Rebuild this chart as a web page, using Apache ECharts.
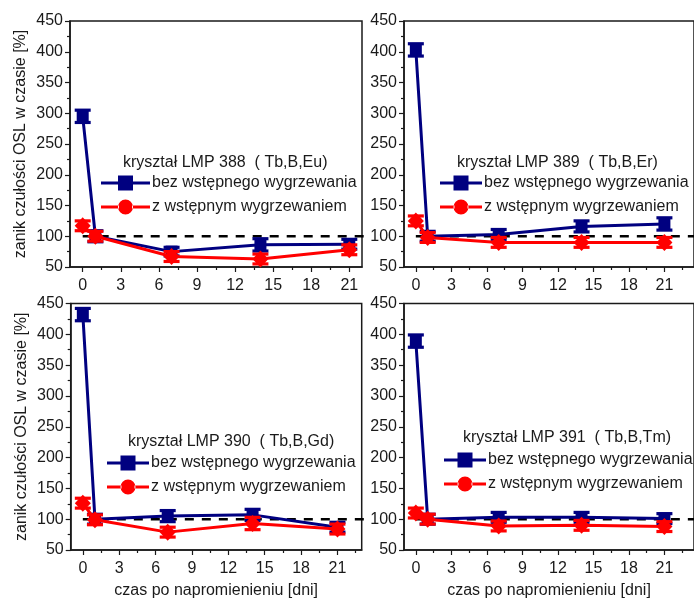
<!DOCTYPE html>
<html><head><meta charset="utf-8">
<script src="https://cdn.jsdelivr.net/npm/echarts@6/dist/echarts.min.js"></script>
<style>html,body{margin:0;padding:0;background:#fff}#c{width:694px;height:602px}</style>
</head><body><div id="c"></div>
<script>
// ---- data ----
const days = [0, 1, 7, 14, 21];
const xTicks = [0, 3, 6, 9, 12, 15, 18, 21];
const xMinorTicks = [1.5, 4.5, 7.5, 10.5, 13.5, 16.5, 19.5, 22.5];
const seriesNames = ['bez wstępnego wygrzewania', 'z wstępnym wygrzewaniem'];
const panelTitles = ['kryształ LMP 388  ( Tb,B,Eu)', 'kryształ LMP 389  ( Tb,B,Er)', 'kryształ LMP 390  ( Tb,B,Gd)', 'kryształ LMP 391  ( Tb,B,Tm)'];
const yAxisTitle = 'zanik czułości OSL w czasie [%]';
const xAxisTitle = 'czas po napromienieniu [dni]';

const bez388 = [295, 100, 75, 86, 87];
const z388   = [117, 100, 67, 63, 78];
const bez389 = [403, 100, 103, 116, 120];
const z389   = [125, 98, 90, 90, 90];
const bez390 = [432, 100, 105, 107, 87];
const z390   = [126, 99, 79, 93, 84];
const bez391 = [389, 100, 103, 103, 101];
const z391   = [110, 100, 89, 90, 88];

const errBez388 = [10, 9, 7, 10, 8];
const errZ388   = [8, 8, 8, 8, 8];
const errBez389 = [10, 8, 8, 9, 10];
const errZ389   = [8, 8, 8, 8, 8];
const errBez390 = [10, 8, 9, 9, 8];
const errZ390   = [8, 8, 8, 10, 8];
const errBez391 = [10, 8, 8, 8, 8];
const errZ391   = [8, 8, 8, 8, 8];

const refLineX = [0, 23.5];
const refLineY = [100, 100];

// ---- presentation ----
const NAVY = '#000080', RED = '#ff0000', INK = '#1a1a1a';
const FONT = 'Liberation Sans, Arial, sans-serif';
const panels = [
  {bez: bez388, z: z388, eb: errBez388, ez: errZ388, grid: {left: 70, top: 21, width: 292, height: 246}, xmax: 22,
   title: {left: 123, top: 155}, legend: {left: 101, top: 175, w: 49}},
  {bez: bez389, z: z389, eb: errBez389, ez: errZ389, grid: {left: 404, top: 21, width: 298, height: 246}, xmax: 23.5,
   title: {left: 457, top: 155}, legend: {left: 440, top: 175, w: 42}},
  {bez: bez390, z: z390, eb: errBez390, ez: errZ390, grid: {left: 70.7, top: 303.5, width: 291, height: 246.5}, xmax: 23,
   title: {left: 128, top: 434}, legend: {left: 107, top: 455, w: 42}},
  {bez: bez391, z: z391, eb: errBez391, ez: errZ391, grid: {left: 404, top: 303.5, width: 294, height: 246.5}, xmax: 23.5,
   title: {left: 463, top: 430}, legend: {left: 444, top: 452, w: 42}}
];

function squareIcon(w, h) {
  const cy = h / 2, x0 = (w - h) / 2, x1 = (w + h) / 2;
  return `path://M0 ${cy-1.5}H${x0}V${cy+1.5}H0Z M${x0} 0H${x1}V${h}H${x0}Z M${x1} ${cy-1.5}H${w}V${cy+1.5}H${x1}Z`;
}
function circleIcon(w, h) {
  const cy = h / 2, r = h / 2, cx = w / 2;
  return `path://M0 ${cy-1.5}H${cx-r+1}V${cy+1.5}H0Z M${cx-r} ${cy}A${r} ${r} 0 1 0 ${cx+r} ${cy}A${r} ${r} 0 1 0 ${cx-r} ${cy}Z M${cx+r-1} ${cy-1.5}H${w}V${cy+1.5}H${cx+r-1}Z`;
}

function renderErr(params, api) {
  const x = api.value(0), y = api.value(1), e = api.value(2);
  const t = api.coord([x, y + e]), b = api.coord([x, y - e]);
  const hw = 8;
  const style = {stroke: api.visual('color'), lineWidth: 3.2};
  return {type: 'group', children: [
    {type: 'line', shape: {x1: t[0], y1: t[1], x2: b[0], y2: b[1]}, style},
    {type: 'line', shape: {x1: t[0] - hw, y1: t[1], x2: t[0] + hw, y2: t[1]}, style},
    {type: 'line', shape: {x1: b[0] - hw, y1: b[1], x2: b[0] + hw, y2: b[1]}, style}
  ]};
}

const option = {animation: false, backgroundColor: '#fff', textStyle: {fontFamily: FONT},
  grid: [], xAxis: [], yAxis: [], series: [], title: [], legend: []};

panels.forEach((p, i) => {
  option.grid.push(Object.assign({show: true, borderColor: INK, borderWidth: 1.5}, p.grid));
  const bottomRow = i >= 2, leftCol = i % 2 === 0;
  option.xAxis.push({type: 'value', gridIndex: i, min: -1, max: p.xmax, position: 'bottom',
    axisLine: {show: true, onZero: false, lineStyle: {color: INK, width: 1.5}},
    axisTick: {show: true, customValues: xTicks, length: 5, lineStyle: {color: INK, width: 1.2}},
    axisLabel: {customValues: xTicks, color: INK, fontSize: 16, fontFamily: FONT, margin: 11},
    splitLine: {show: false},
    name: bottomRow ? xAxisTitle : '', nameLocation: 'middle', nameGap: 33,
    nameTextStyle: {color: INK, fontSize: 16, fontFamily: FONT}});
  option.xAxis.push({type: 'value', gridIndex: i, min: -1, max: p.xmax, position: 'bottom',
    axisLine: {show: false, onZero: false},
    axisTick: {show: true, customValues: xMinorTicks, length: 3, lineStyle: {color: INK, width: 1.2}},
    axisLabel: {show: false}, splitLine: {show: false}});
  option.yAxis.push({type: 'value', gridIndex: i, min: 50, max: 450, interval: 50, position: 'left',
    axisLine: {show: true, onZero: false, lineStyle: {color: INK, width: 1.5}},
    axisTick: {show: true, length: 5, lineStyle: {color: INK, width: 1.2}},
    minorTick: {show: true, splitNumber: 2, length: 3, lineStyle: {color: INK, width: 1.2}},
    axisLabel: {color: INK, fontSize: 16, fontFamily: FONT, margin: 7},
    splitLine: {show: false},
    name: leftCol ? yAxisTitle : '', nameLocation: 'middle', nameGap: 41,
    nameTextStyle: {color: INK, fontSize: 16, fontFamily: FONT}});

  const xi = 2 * i, yi = i;
  option.series.push({type: 'line', xAxisIndex: xi, yAxisIndex: yi, silent: true, symbol: 'none', z: 1,
    data: refLineX.map((x, k) => [x, refLineY[k]]),
    lineStyle: {color: '#000', width: 2.5, type: [9, 8]}});
  option.series.push({type: 'custom', name: 'errBez' + i, xAxisIndex: xi, yAxisIndex: yi, renderItem: renderErr,
    itemStyle: {color: NAVY}, encode: {x: 0, y: 1}, silent: true, z: 2,
    data: days.map((d, k) => [d, p.bez[k], p.eb[k]])});
  option.series.push({type: 'line', name: seriesNames[0], xAxisIndex: xi, yAxisIndex: yi, z: 2,
    data: days.map((d, k) => [d, p.bez[k]]), symbol: 'rect', symbolSize: 12,
    itemStyle: {color: NAVY}, lineStyle: {color: NAVY, width: 3}});
  option.series.push({type: 'custom', name: 'errZ' + i, xAxisIndex: xi, yAxisIndex: yi, renderItem: renderErr,
    itemStyle: {color: RED}, encode: {x: 0, y: 1}, silent: true, z: 3,
    data: days.map((d, k) => [d, p.z[k], p.ez[k]])});
  option.series.push({type: 'line', name: seriesNames[1], xAxisIndex: xi, yAxisIndex: yi, z: 3,
    data: days.map((d, k) => [d, p.z[k]]), symbol: 'diamond', symbolSize: [16, 17],
    itemStyle: {color: RED}, lineStyle: {color: RED, width: 3}});

  option.title.push({text: panelTitles[i], left: p.title.left, top: p.title.top, padding: 0,
    textStyle: {color: INK, fontSize: 16, fontWeight: 'normal', fontFamily: FONT}});
  const h = 15;
  option.legend.push({orient: 'vertical', left: p.legend.left, top: p.legend.top, padding: 0,
    itemWidth: p.legend.w, itemHeight: h, itemGap: 8, selectedMode: false,
    textStyle: {color: INK, fontSize: 16, fontFamily: FONT, padding: [0, 0, 0, -3]},
    data: [
      {name: seriesNames[0], icon: squareIcon(p.legend.w, h), itemStyle: {color: NAVY, borderWidth: 0}},
      {name: seriesNames[1], icon: circleIcon(p.legend.w, h), itemStyle: {color: RED, borderWidth: 0}}
    ]});
});

const chart = echarts.init(document.getElementById('c'), null, {renderer: 'canvas'});
chart.setOption(option);
</script></body></html>
